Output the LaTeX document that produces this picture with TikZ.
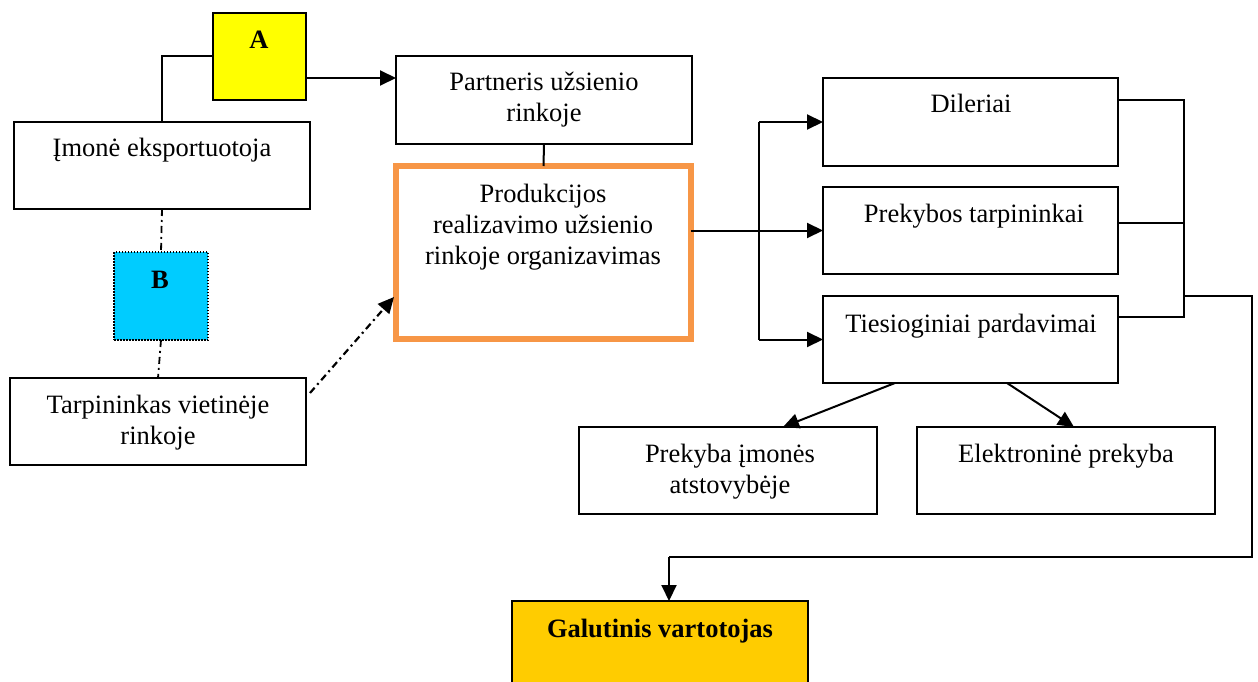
\documentclass[tikz,border=0pt]{standalone}
\usepackage{fontspec}
\setmainfont{Liberation Serif}
\usetikzlibrary{arrows.meta}

\definecolor{fillA}{HTML}{FFFF00}
\definecolor{fillB}{HTML}{00CCFF}
\definecolor{fillEnd}{HTML}{FFCC00}
\definecolor{frameOrg}{HTML}{F79646}

% centred block of lines whose baseline is the first line's
\newcommand\stacked[1]{\begin{tabular}[t]{@{}c@{}}#1\end{tabular}}

\tikzset{
  box/.style={draw, rectangle, line width=2pt, inner sep=0pt, outer sep=0pt, anchor=north west, fill=white},
  txt/.style={anchor=base, inner sep=0pt},
  link/.style={line width=2pt},
  tip/.style={-{Triangle[length=16pt,width=15pt]}},
  arr/.style={line width=2pt, tip},
  dashdot/.style={line width=1.8pt, dash pattern=on 7pt off 4pt on 2pt off 4pt},
}

\begin{document}
\begin{tikzpicture}[x=1pt, y=-1pt, font=\fontsize{26.5}{31}\selectfont]
\clip (0,0) rectangle (1258,682);
\fill[white] (0,0) rectangle (1258,682);

% left column
\node[box, fill=fillA, minimum width=93pt, minimum height=87pt] (A) at (213,13) {};
\node[txt, font=\fontsize{26.5}{31}\selectfont\bfseries] (Atxt) at (259,49) {A};

\node[box, minimum width=296pt, minimum height=87pt] (imone) at (14,122) {};
\node[txt] (imonetxt) at (162,157) {Įmonė eksportuotoja};

\node[box, fill=fillB, line width=1.8pt, dash pattern=on 1.5pt off 1.5pt, minimum width=94pt, minimum height=88pt] (B) at (114,252) {};
\node[txt, font=\fontsize{26.5}{31}\selectfont\bfseries] (Btxt) at (160,288) {B};

\node[box, minimum width=296pt, minimum height=87pt] (tarp) at (10,378) {};
\node[txt] (tarptxt) at (158,413) {\stacked{Tarpininkas vietinėje\\rinkoje}};

% middle column
\node[box, minimum width=296pt, minimum height=88pt] (partner) at (396,56) {};
\node[txt] (partnertxt) at (544,91) {\stacked{Partneris užsienio\\rinkoje}};

\node[box, draw=frameOrg, line width=6pt, minimum width=295pt, minimum height=173pt] (prod) at (396,166) {};
\node[txt] (prodtxt) at (543,202) {\stacked{Produkcijos\\realizavimo užsienio\\rinkoje organizavimas}};

% right column
\node[box, minimum width=295pt, minimum height=88pt] (dil) at (823,78) {};
\node[txt] (diltxt) at (971,113) {Dileriai};

\node[box, minimum width=295pt, minimum height=87pt] (prek) at (823,187) {};
\node[txt] (prektxt) at (974,222) {Prekybos tarpininkai};

\node[box, minimum width=295pt, minimum height=87pt] (ties) at (823,296) {};
\node[txt] (tiestxt) at (971,332) {Tiesioginiai pardavimai};

\node[box, minimum width=298pt, minimum height=87pt] (atst) at (579,427) {};
\node[txt] (atsttxt) at (730,462) {\stacked{Prekyba įmonės\\atstovybėje}};

\node[box, minimum width=298pt, minimum height=87pt] (elek) at (917,427) {};
\node[txt] (elektxt) at (1066,462) {Elektroninė prekyba};

\node[box, fill=fillEnd, minimum width=296pt, minimum height=100pt] (gal) at (512,601) {};
\node[txt, font=\fontsize{26.5}{31}\selectfont\bfseries] (galtxt) at (660,637) {Galutinis vartotojas};

% helper points for the connectors
\coordinate (aOut) at (306,78);
\coordinate (tarpOut) at (310,393);
\coordinate (prodIn) at (394,297);
\coordinate (fork) at (759,0);
\coordinate (dOut) at (1118,100);
\coordinate (pOut) at (1118,223);
\coordinate (tOut) at (1118,317);
\coordinate (bus) at (1184,100);
\coordinate (busOut) at (1184,296);
\coordinate (edge) at (1252,296);
\coordinate (drop) at (669,557);
\coordinate (tiesL) at (895,383);
\coordinate (tiesR) at (1007,383);
\coordinate (atstIn) at (783,427);
\coordinate (elekIn) at (1074,427);

% left column links
\draw[link] (A.west) -| (imone.north);
\draw[arr] (aOut) -- (aOut -| partner.west);
\draw[dashdot] (imone.south) -- (B.north);
\draw[dashdot] (B.south) -- (tarp.north);
\draw[dashdot, line width=2.2pt, tip] (tarpOut) -- (prodIn);

% middle links
\draw[link] (partner.south) -- (prod.north);
\draw[link] (prek.west -| prod.east) -- (prek.west -| fork);
\draw[link] (dil.west -| fork) -- (ties.west -| fork);
\draw[arr] (dil.west -| fork) -- (dil.west);
\draw[arr] (prek.west -| fork) -- (prek.west);
\draw[arr] (ties.west -| fork) -- (ties.west);

% collecting bus on the right
\draw[link] (dOut) -- (bus) -- (tOut -| bus) -- (tOut);
\draw[link] (pOut) -- (pOut -| bus);
\draw[link] (busOut) -- (edge) |- (drop);
\draw[arr] (drop) -- (drop |- gal.north);

% direct sales branches
\draw[arr] (tiesL) -- (atstIn);
\draw[arr] (tiesR) -- (elekIn);
\end{tikzpicture}
\end{document}
